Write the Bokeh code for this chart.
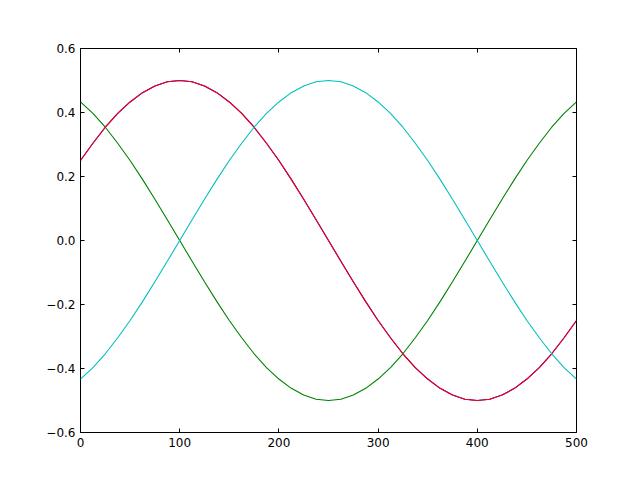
from bokeh.plotting import figure
from bokeh.models import LinearAxis, FixedTicker, CustomJSTickFormatter, Range1d
from bokeh.embed import file_html
from bokeh.resources import INLINE

x = [0, 12.5, 25, 37.5, 50, 62.5, 75, 87.5, 100, 112.5, 125, 137.5, 150, 162.5, 175, 187.5, 200,
     212.5, 225, 237.5, 250, 262.5, 275, 287.5, 300, 312.5, 325, 337.5, 350, 362.5, 375, 387.5, 400,
     412.5, 425, 437.5, 450, 462.5, 475, 487.5, 500]
blue = [0.25, 0.304, 0.354, 0.397, 0.433, 0.462, 0.483, 0.496, 0.5, 0.496, 0.483, 0.462, 0.433, 0.397,
        0.354, 0.304, 0.25, 0.191, 0.129, 0.065, 0.0, -0.065, -0.129, -0.191, -0.25, -0.304, -0.354,
        -0.397, -0.433, -0.462, -0.483, -0.496, -0.5, -0.496, -0.483, -0.462, -0.433, -0.397, -0.354,
        -0.304, -0.25]
green = [0.433, 0.397, 0.354, 0.304, 0.25, 0.191, 0.129, 0.065, 0.0, -0.065, -0.129, -0.191, -0.25,
         -0.304, -0.354, -0.397, -0.433, -0.462, -0.483, -0.496, -0.5, -0.496, -0.483, -0.462, -0.433,
         -0.397, -0.354, -0.304, -0.25, -0.191, -0.129, -0.065, 0.0, 0.065, 0.129, 0.191, 0.25, 0.304,
         0.354, 0.397, 0.433]
red = [0.25, 0.304, 0.354, 0.397, 0.433, 0.462, 0.483, 0.496, 0.5, 0.496, 0.483, 0.462, 0.433, 0.397,
       0.354, 0.304, 0.25, 0.191, 0.129, 0.065, 0.0, -0.065, -0.129, -0.191, -0.25, -0.304, -0.354,
       -0.397, -0.433, -0.462, -0.483, -0.496, -0.5, -0.496, -0.483, -0.462, -0.433, -0.397, -0.354,
       -0.304, -0.25]
cyan = [-0.433, -0.397, -0.354, -0.304, -0.25, -0.191, -0.129, -0.065, 0.0, 0.065, 0.129, 0.191, 0.25,
        0.304, 0.354, 0.397, 0.433, 0.462, 0.483, 0.496, 0.5, 0.496, 0.483, 0.462, 0.433, 0.397, 0.354,
        0.304, 0.25, 0.191, 0.129, 0.065, 0.0, -0.065, -0.129, -0.191, -0.25, -0.304, -0.354, -0.397,
        -0.433]

x_ticks = [0, 100, 200, 300, 400, 500]
y_ticks = [-0.6, -0.4, -0.2, 0.0, 0.2, 0.4, 0.6]

p = figure(width=640, height=480, output_backend="svg", toolbar_location=None,
           x_range=Range1d(0, 500), y_range=Range1d(-0.6, 0.6),
           min_border_left=80, min_border_right=64, min_border_top=48, min_border_bottom=48,
           x_axis_location=None, y_axis_location=None)
p.grid.visible = False
p.outline_line_color = "black"
p.outline_line_width = 1
p.background_fill_color = "white"
p.border_fill_color = "white"

p.line(x, blue, line_color="#0000ff", line_width=1.1)
p.line(x, green, line_color="#008000", line_width=1.1)
p.line(x, red, line_color="#ff0000", line_width=1.1)
p.line(x, cyan, line_color="#00bfbf", line_width=1.1)

xfmt = CustomJSTickFormatter(code="return tick.toFixed(0);")
yfmt = CustomJSTickFormatter(code="return tick.toFixed(1).replace('-', '\u2212');")

def style(ax, labels=True):
    ax.axis_line_color = None
    ax.major_tick_in = 4
    ax.major_tick_out = 0
    ax.minor_tick_in = 0
    ax.minor_tick_out = 0
    ax.major_tick_line_color = "black"
    ax.major_label_text_font = "DejaVu Sans"
    ax.major_label_text_font_size = "12px"
    ax.major_label_text_color = "black" if labels else None
    ax.major_label_standoff = 5

bx = LinearAxis(ticker=FixedTicker(ticks=x_ticks), formatter=xfmt)
style(bx)
p.add_layout(bx, "below")
tx = LinearAxis(ticker=FixedTicker(ticks=x_ticks), formatter=xfmt)
style(tx, labels=False)
p.add_layout(tx, "above")
ly = LinearAxis(ticker=FixedTicker(ticks=y_ticks), formatter=yfmt)
style(ly)
p.add_layout(ly, "left")
ry = LinearAxis(ticker=FixedTicker(ticks=y_ticks), formatter=yfmt)
style(ry, labels=False)
p.add_layout(ry, "right")

open("out.html", "w").write(file_html(p, INLINE))
